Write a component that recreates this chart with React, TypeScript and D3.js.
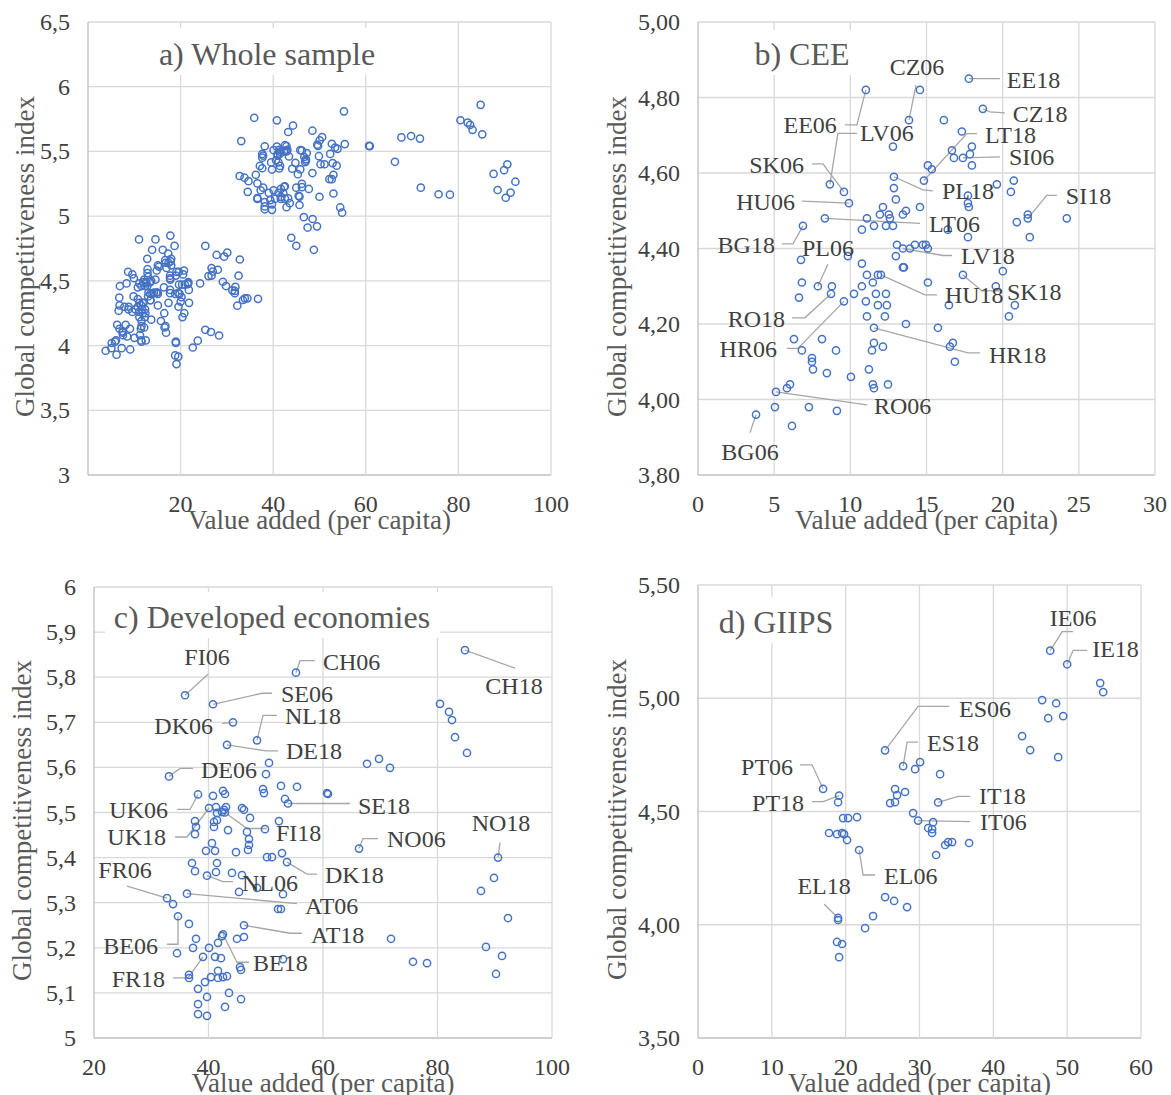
import React from "react";
import * as d3 from "d3";

type Pt = [number, number];
type Named = [string, number, number];

// b) CEE – labelled points, then the rest
const ceeNamed: Named[] = [
  ["EE06", 11.02, 4.82], ["CZ06", 13.85, 4.74], ["LV06", 8.66, 4.57], ["SK06", 9.58, 4.55],
  ["HU06", 9.91, 4.52], ["PL18", 12.86, 4.59], ["LT18", 14.83, 4.58], ["SI06", 17.39, 4.64],
  ["EE18", 17.78, 4.85], ["CZ18", 18.7, 4.77], ["SI18", 21.65, 4.48], ["LV18", 13.45, 4.4],
  ["SK18", 17.39, 4.33], ["HU18", 12.01, 4.33], ["HR18", 11.55, 4.19], ["BG18", 6.89, 4.46],
  ["PL06", 7.87, 4.3], ["RO18", 8.73, 4.28], ["HR06", 9.58, 4.26], ["RO06", 5.12, 4.02],
  ["BG06", 3.81, 3.96], ["LT06", 8.33, 4.48],
];
const ceeOther: Pt[] = [
  [14.57, 4.82], [12.8, 4.67], [16.14, 4.74], [17.32, 4.71], [16.67, 4.66], [16.8, 4.64],
  [17.98, 4.67], [17.85, 4.65], [17.98, 4.62], [15.09, 4.62], [15.35, 4.61], [19.62, 4.57],
  [20.73, 4.58], [20.54, 4.55], [17.72, 4.54], [17.72, 4.52], [17.78, 4.51], [14.57, 4.51],
  [21.65, 4.49], [20.93, 4.47], [24.21, 4.48], [16.4, 4.45], [17.72, 4.43], [21.78, 4.43],
  [13.91, 4.4], [14.24, 4.41], [14.76, 4.41], [14.96, 4.41], [15.09, 4.4], [13.06, 4.41],
  [13.52, 4.35], [13.45, 4.35], [20.01, 4.34], [19.55, 4.3], [15.09, 4.31], [16.47, 4.25],
  [20.8, 4.25], [20.41, 4.22], [13.65, 4.2], [15.75, 4.19], [16.54, 4.14], [16.73, 4.15],
  [16.86, 4.1], [11.81, 4.33], [10.76, 4.45], [11.55, 4.46], [12.34, 4.46], [12.8, 4.46],
  [9.84, 4.38], [10.76, 4.36], [12.99, 4.38], [6.76, 4.37], [6.82, 4.31], [8.79, 4.3],
  [6.63, 4.27], [10.24, 4.28], [10.76, 4.3], [11.09, 4.33], [11.48, 4.31], [11.68, 4.28],
  [12.34, 4.28], [11.02, 4.26], [11.81, 4.25], [12.4, 4.25], [11.09, 4.22], [12.27, 4.22],
  [6.3, 4.16], [8.14, 4.16], [6.82, 4.13], [9.06, 4.13], [11.55, 4.15], [12.14, 4.14],
  [11.42, 4.13], [7.48, 4.11], [7.48, 4.1], [7.55, 4.08], [8.46, 4.07], [10.04, 4.06],
  [11.22, 4.08], [11.48, 4.04], [11.55, 4.03], [12.47, 4.04], [6.04, 4.04], [5.84, 4.03],
  [5.05, 3.98], [7.28, 3.98], [9.12, 3.97], [6.17, 3.93], [12.86, 4.56], [12.99, 4.53],
  [12.14, 4.51], [11.09, 4.48], [11.94, 4.49], [12.53, 4.49], [12.6, 4.48], [13.45, 4.49],
  [13.65, 4.5],
];

// c) Developed economies
const devNamed: Named[] = [
  ["CH18", 84.8, 5.86], ["CH06", 55.28, 5.81], ["FI06", 35.9, 5.76], ["SE06", 40.79, 5.74],
  ["DK06", 44.28, 5.7], ["NL18", 48.47, 5.66], ["DE18", 43.23, 5.65], ["DE06", 33.1, 5.58],
  ["UK06", 38.17, 5.54], ["UK18", 40.09, 5.51], ["FI18", 42.88, 5.5], ["SE18", 53.89, 5.52],
  ["NO06", 66.29, 5.42], ["NO18", 90.57, 5.4], ["DK18", 53.71, 5.39], ["NL06", 39.74, 5.36],
  ["AT06", 36.24, 5.32], ["FR06", 32.75, 5.31], ["AT18", 46.2, 5.25], ["BE06", 34.67, 5.27],
  ["BE18", 42.53, 5.23], ["FR18", 39.04, 5.18],
];
const devOther: Pt[] = [
  [50.57, 5.61], [50.04, 5.585], [49.52, 5.552], [49.69, 5.543], [52.66, 5.559], [55.46, 5.557],
  [60.7, 5.543], [53.36, 5.53], [40.79, 5.537], [42.53, 5.548], [42.88, 5.541], [41.31, 5.512],
  [43.06, 5.512], [45.85, 5.51], [46.2, 5.506], [41.48, 5.499], [42.36, 5.501], [42.71, 5.506],
  [37.64, 5.481], [40.96, 5.479], [41.48, 5.483], [47.25, 5.488], [52.31, 5.481], [37.82, 5.468],
  [40.96, 5.468], [43.41, 5.461], [46.72, 5.457], [49.87, 5.463], [37.64, 5.452], [47.07, 5.441],
  [47.07, 5.428], [46.9, 5.417], [40.61, 5.432], [39.56, 5.415], [41.14, 5.415], [44.8, 5.412],
  [50.22, 5.401], [51.09, 5.401], [52.84, 5.41], [37.12, 5.388], [37.64, 5.37], [41.48, 5.388],
  [41.31, 5.368], [44.1, 5.366], [45.85, 5.361], [45.33, 5.324], [48.47, 5.333], [53.01, 5.319],
  [52.14, 5.286], [52.66, 5.286], [33.8, 5.297], [36.59, 5.253], [37.82, 5.22], [37.29, 5.2],
  [34.5, 5.188], [40.09, 5.2], [41.66, 5.211], [42.36, 5.226], [44.98, 5.22], [46.2, 5.224],
  [41.14, 5.18], [42.18, 5.177], [45.5, 5.157], [45.68, 5.151], [53.01, 5.175], [36.59, 5.14],
  [36.59, 5.133], [39.39, 5.124], [40.44, 5.135], [41.66, 5.149], [41.66, 5.133], [42.53, 5.135],
  [43.23, 5.137], [38.17, 5.109], [43.58, 5.1], [45.68, 5.086], [39.74, 5.091], [38.17, 5.075],
  [42.88, 5.069], [38.17, 5.053], [39.74, 5.049], [89.87, 5.355], [87.6, 5.326], [92.31, 5.266],
  [71.88, 5.22], [88.47, 5.202], [91.27, 5.182], [75.72, 5.169], [78.17, 5.166], [90.22, 5.142],
  [80.44, 5.741], [82.01, 5.723], [82.53, 5.705], [83.06, 5.667], [85.15, 5.632], [67.69, 5.608],
  [69.78, 5.619], [71.7, 5.599], [60.87, 5.541],
];

// d) GIIPS
const giipsNamed: Named[] = [
  ["IE06", 47.7, 5.21], ["IE18", 50.0, 5.15], ["ES06", 25.34, 4.77], ["ES18", 27.78, 4.7],
  ["PT06", 16.94, 4.6], ["PT18", 19.11, 4.57], ["EL06", 21.82, 4.33], ["EL18", 18.97, 4.03],
  ["IT18", 32.52, 4.54], ["IT06", 29.81, 4.46],
];
const giipsOther: Pt[] = [
  [54.47, 5.067], [54.88, 5.027], [46.61, 4.992], [48.51, 4.978], [49.46, 4.921], [47.43, 4.912],
  [43.9, 4.833], [44.99, 4.771], [48.78, 4.74], [29.4, 4.687], [30.08, 4.718], [32.79, 4.665],
  [26.69, 4.599], [26.96, 4.572], [28.05, 4.586], [26.02, 4.537], [26.69, 4.541], [18.97, 4.541],
  [19.65, 4.471], [20.33, 4.471], [21.54, 4.475], [17.75, 4.405], [18.83, 4.4], [19.51, 4.405],
  [19.78, 4.4], [20.19, 4.374], [29.13, 4.493], [31.84, 4.453], [31.17, 4.427], [31.71, 4.422],
  [31.71, 4.405], [33.47, 4.352], [33.88, 4.365], [34.42, 4.365], [36.72, 4.361], [32.25, 4.308],
  [25.34, 4.122], [26.56, 4.105], [28.32, 4.078], [23.71, 4.038], [22.63, 3.985], [18.97, 4.021],
  [18.83, 3.924], [19.51, 3.915], [19.11, 3.857],
];

const xTicksA = [0, 20, 40, 60, 80, 100];
const yTicksA = [3, 3.5, 4, 4.5, 5, 5.5, 6, 6.5];
const xTicksB = [0, 5, 10, 15, 20, 25, 30];
const yTicksB = [3.8, 4.0, 4.2, 4.4, 4.6, 4.8, 5.0];
const xTicksC = [20, 40, 60, 80, 100];
const yTicksC = [5, 5.1, 5.2, 5.3, 5.4, 5.5, 5.6, 5.7, 5.8, 5.9, 6];
const xTicksD = [0, 10, 20, 30, 40, 50, 60];
const yTicksD = [3.5, 4.0, 4.5, 5.0, 5.5];

// label placement (pixel offsets from the marker) – layout only
type Lab = { tx: number; ty: number; anchor: "start" | "middle" | "end"; path: [number, number][] };
const labelLayout: Record<string, Lab> = {
  EE06: { tx: -29, ty: 35, anchor: "end", path: [[-9, 35], [-21, 35]] },
  CZ06: { tx: 8, ty: -53, anchor: "middle", path: [[7, -35]] },
  LV06: { tx: 30, ty: -51, anchor: "start", path: [[8, -51], [27, -51]] },
  SK06: { tx: -40, ty: -27, anchor: "end", path: [[-21, -28], [-32, -28]] },
  HU06: { tx: -54, ty: -1, anchor: "end", path: [[-47, -2]] },
  BG18: { tx: -28, ty: 19, anchor: "end", path: [[-10, 18], [-21, 18]] },
  PL06: { tx: 10, ty: -38, anchor: "middle", path: [[10, -22]] },
  RO18: { tx: -46, ty: 25, anchor: "end", path: [[-26, 24], [-39, 24]] },
  HR06: { tx: -67, ty: 48, anchor: "end", path: [[-46, 47], [-57, 47]] },
  RO06: { tx: 98, ty: 14, anchor: "start", path: [[77, 11], [91, 13]] },
  BG06: { tx: -6, ty: 37, anchor: "middle", path: [[-6, 18]] },
  PL18: { tx: 48, ty: 14, anchor: "start", path: [[29, 13], [39, 14]] },
  LT18: { tx: 61, ty: -46, anchor: "start", path: [[43, -47], [53, -47]] },
  SI06: { tx: 46, ty: -1, anchor: "start", path: [[37, -1]] },
  EE18: { tx: 38, ty: 1, anchor: "start", path: [[31, 0]] },
  CZ18: { tx: 30, ty: 5, anchor: "start", path: [[7, 3], [22, 4]] },
  SI18: { tx: 38, ty: -22, anchor: "start", path: [[19, -23], [29, -23]] },
  LT06: { tx: 104, ty: 6, anchor: "start", path: [[95, 5]] },
  LV18: { tx: 58, ty: 7, anchor: "start", path: [[40, 7], [49, 7]] },
  HU18: { tx: 64, ty: 20, anchor: "start", path: [[44, 20], [56, 20]] },
  SK18: { tx: 44, ty: 17, anchor: "start", path: [[19, 16], [37, 16]] },
  HR18: { tx: 115, ty: 27, anchor: "start", path: [[94, 25], [106, 25]] },

  CH18: { tx: 49, ty: 36, anchor: "middle", path: [[50, 18]] },
  CH06: { tx: 27, ty: -11, anchor: "start", path: [[4, -12], [19, -12]] },
  FI06: { tx: 22, ty: -38, anchor: "middle", path: [[23, -21]] },
  SE06: { tx: 68, ty: -10, anchor: "start", path: [[49, -11], [59, -11]] },
  DK06: { tx: -20, ty: 4, anchor: "end", path: [[-11, 1]] },
  NL18: { tx: 28, ty: -24, anchor: "start", path: [[6, -25], [20, -25]] },
  DE18: { tx: 59, ty: 6, anchor: "start", path: [[39, 6], [51, 6]] },
  DE06: { tx: 32, ty: -6, anchor: "start", path: [[11, -8], [24, -8]] },
  UK06: { tx: -30, ty: 16, anchor: "end", path: [[-8, 15], [-21, 15]] },
  UK18: { tx: -43, ty: 29, anchor: "end", path: [[-22, 29], [-34, 29]] },
  FI18: { tx: 51, ty: 20, anchor: "start", path: [[22, 16], [42, 16]] },
  SE18: { tx: 70, ty: 3, anchor: "start", path: [[62, 0]] },
  NO06: { tx: 28, ty: -10, anchor: "start", path: [[4, -10], [19, -10]] },
  NO18: { tx: 3, ty: -35, anchor: "middle", path: [[2, -15]] },
  DK18: { tx: 38, ty: 13, anchor: "start", path: [[20, 12], [30, 12]] },
  NL06: { tx: 35, ty: 7, anchor: "start", path: [[16, 6], [26, 6]] },
  AT06: { tx: 118, ty: 12, anchor: "start", path: [[110, 10]] },
  FR06: { tx: -42, ty: -28, anchor: "middle", path: [[-40, -12]] },
  BE06: { tx: -20, ty: 30, anchor: "end", path: [[0, 28], [-11, 28]] },
  AT18: { tx: 67, ty: 10, anchor: "start", path: [[46, 8], [58, 8]] },
  BE18: { tx: 30, ty: 29, anchor: "start", path: [[14, 28], [26, 28]] },
  FR18: { tx: -38, ty: 22, anchor: "end", path: [[-15, 21], [-30, 21]] },

  IE06: { tx: 23, ty: -33, anchor: "middle", path: [[12, -19], [23, -19]] },
  IE18: { tx: 25, ty: -15, anchor: "start", path: [[6, -14], [20, -14]] },
  ES06: { tx: 74, ty: -41, anchor: "start", path: [[33, -44], [64, -44]] },
  ES18: { tx: 24, ty: -23, anchor: "start", path: [[4, -24], [15, -24]] },
  PT06: { tx: -30, ty: -22, anchor: "end", path: [[-11, -24], [-23, -24]] },
  PT18: { tx: -35, ty: 7, anchor: "end", path: [[-16, 6], [-27, 6]] },
  EL06: { tx: 25, ty: 26, anchor: "start", path: [[4, 25], [16, 25]] },
  EL18: { tx: -14, ty: -32, anchor: "middle", path: [[-14, -14]] },
  IT18: { tx: 41, ty: -6, anchor: "start", path: [[20, -6], [32, -6]] },
  IT06: { tx: 62, ty: 1, anchor: "start", path: [[52, 1]] },
};

const FONT = "'Liberation Serif', 'Times New Roman', serif";
const BLUE = "#4472C4";
const GRID = "#d9d9d9";
const TXT = "#404040";

const comma = (d: number) => String(d).replace(".", ",");
const comma2 = (d: number) => d.toFixed(2).replace(".", ",");

type PanelCfg = {
  title: string;
  titleX: number;
  titleY: number;
  titleBox: [number, number, number, number];
  left: number;
  right: number;
  top: number;
  bottom: number;
  xDomain: [number, number];
  yDomain: [number, number];
  xTicks: number[];
  xLabelSkip: number[];
  yTicks: number[];
  yFmt: (d: number) => string;
  yTitleX: number;
  named: Named[];
  other: Pt[];
};

const Panel = ({ cfg }: { cfg: PanelCfg }) => {
  const x = d3.scaleLinear().domain(cfg.xDomain).range([cfg.left, cfg.right]);
  const y = d3.scaleLinear().domain(cfg.yDomain).range([cfg.bottom, cfg.top]);
  const all: Pt[] = [...cfg.other, ...cfg.named.map((n) => [n[1], n[2]] as Pt)];
  const line = d3.line();
  const midY = (cfg.top + cfg.bottom) / 2 + 8;
  const midX = (cfg.left + cfg.right) / 2;
  return (
    <g>
      {/* grid */}
      {cfg.yTicks.map((t, i) => (
        <line key={"gy" + i} x1={cfg.left} x2={cfg.right} y1={y(t)} y2={y(t)}
          stroke={i === 0 ? "#bfbfbf" : GRID} strokeWidth={1.3} />
      ))}
      {cfg.xTicks.map((t, i) => (
        <line key={"gx" + i} x1={x(t)} x2={x(t)} y1={cfg.top} y2={cfg.bottom}
          stroke={i === 0 ? "#bfbfbf" : GRID} strokeWidth={1.3} />
      ))}
      {/* title backing */}
      <rect x={cfg.titleBox[0]} y={cfg.titleBox[1]} width={cfg.titleBox[2]} height={cfg.titleBox[3]} fill="#fff" />
      {/* tick labels */}
      {cfg.yTicks.map((t, i) => (
        <text key={"ty" + i} x={cfg.left - 18} y={y(t)} textAnchor="end" dominantBaseline="central"
          fontSize={24} fill={TXT}>{cfg.yFmt(t)}</text>
      ))}
      {cfg.xTicks.filter((t) => !cfg.xLabelSkip.includes(t)).map((t, i) => (
        <text key={"tx" + i} x={x(t)} y={cfg.bottom + 29} textAnchor="middle" dominantBaseline="central"
          fontSize={24} fill={TXT}>{t}</text>
      ))}
      {/* axis titles */}
      <text x={midX} y={cfg.bottom + 45} textAnchor="middle" dominantBaseline="central" fontSize={27} fill="#595959">
        Value added (per capita)
      </text>
      <text transform={`translate(${cfg.yTitleX},${midY}) rotate(-90)`} textAnchor="middle" dominantBaseline="central"
        fontSize={27} fill="#595959">Global competitiveness index</text>
      {/* leader lines */}
      {cfg.named.map((n) => {
        const L = labelLayout[n[0]];
        if (!L) return null;
        const px = x(n[1]);
        const py = y(n[2]);
        const pts: [number, number][] = [[px, py], ...L.path.map(([dx, dy]) => [px + dx, py + dy] as [number, number])];
        return <path key={"ll" + n[0]} d={line(pts) || ""} fill="none" stroke="#a6a6a6" strokeWidth={1.3} />;
      })}
      {/* markers */}
      {all.map((p, i) => (
        <circle key={"m" + i} cx={x(p[0])} cy={y(p[1])} r={3.6} fill="none" stroke={BLUE} strokeWidth={1.5} />
      ))}
      {/* data labels */}
      {cfg.named.map((n) => {
        const L = labelLayout[n[0]];
        if (!L) return null;
        return (
          <text key={"lb" + n[0]} x={x(n[1]) + L.tx} y={y(n[2]) + L.ty} textAnchor={L.anchor}
            dominantBaseline="central" fontSize={24} fill={TXT}>{n[0]}</text>
        );
      })}
      <text x={cfg.titleX} y={cfg.titleY} textAnchor="middle" dominantBaseline="central" fontSize={32} fill="#595959">
        {cfg.title}
      </text>
    </g>
  );
};

const allNamedAsPoints: Pt[] = [...ceeNamed, ...devNamed, ...giipsNamed].map((n) => [n[1], n[2]] as Pt);

const panels: PanelCfg[] = [
  {
    title: "a) Whole sample", titleX: 267, titleY: 54, titleBox: [150, 28, 235, 47],
    left: 88, right: 551, top: 22, bottom: 475, xDomain: [0, 100], yDomain: [3, 6.5],
    xTicks: xTicksA, xLabelSkip: [0], yTicks: yTicksA, yFmt: comma, yTitleX: 25,
    named: [], other: [...ceeOther, ...devOther, ...giipsOther, ...allNamedAsPoints],
  },
  {
    title: "b) CEE", titleX: 802, titleY: 54, titleBox: [745, 30, 115, 45],
    left: 698, right: 1155, top: 22, bottom: 475, xDomain: [0, 30], yDomain: [3.8, 5.0],
    xTicks: xTicksB, xLabelSkip: [], yTicks: yTicksB, yFmt: comma2, yTitleX: 617,
    named: ceeNamed, other: ceeOther,
  },
  {
    title: "c) Developed economies", titleX: 272, titleY: 617, titleBox: [105, 592, 335, 46],
    left: 94, right: 552, top: 587, bottom: 1038, xDomain: [20, 100], yDomain: [5, 6],
    xTicks: xTicksC, xLabelSkip: [], yTicks: yTicksC, yFmt: comma, yTitleX: 22,
    named: devNamed, other: devOther,
  },
  {
    title: "d) GIIPS", titleX: 776, titleY: 622, titleBox: [712, 597, 128, 46],
    left: 698, right: 1141, top: 585, bottom: 1038, xDomain: [0, 60], yDomain: [3.5, 5.5],
    xTicks: xTicksD, xLabelSkip: [], yTicks: yTicksD, yFmt: comma2, yTitleX: 617,
    named: giipsNamed, other: giipsOther,
  },
];

export default function App() {
  return (
    <>
      <style>{`body{margin:0;background:#fff}`}</style>
      <svg width={1171} height={1095} style={{ display: "block", fontFamily: FONT }}>
        <rect width={1171} height={1095} fill="#fff" />
        {panels.map((p, i) => (
          <Panel key={i} cfg={p} />
        ))}
      </svg>
    </>
  );
}
